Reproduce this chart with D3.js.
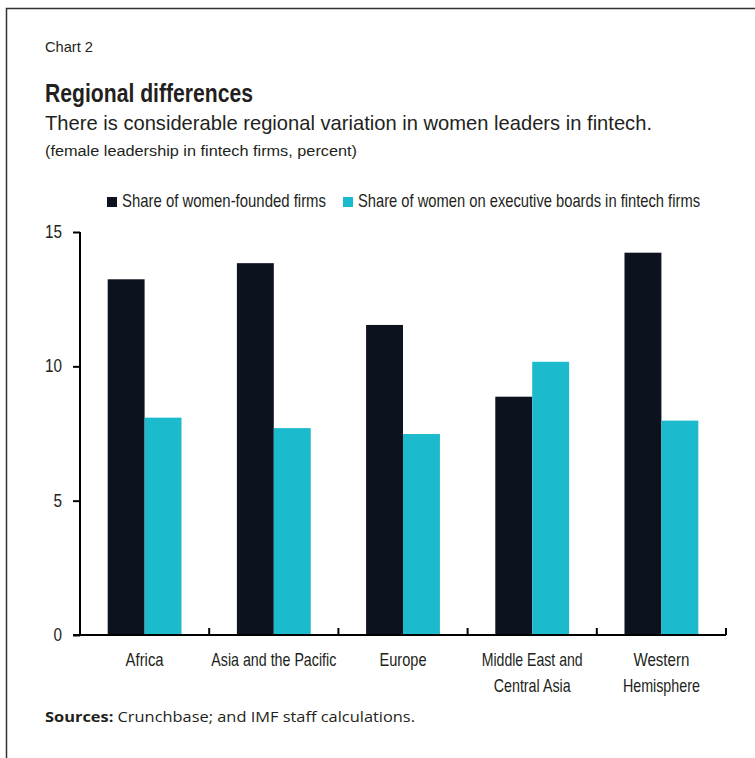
<!DOCTYPE html>
<html lang="en">
<head>
<meta charset="UTF-8">
<script src="https://d3js.org/d3.v7.min.js"></script>
<title>Regional differences</title>
<style>
  body { margin: 0; background: #fff; }
  svg text { fill: #231f20; }
  .cond { font-family: "Liberation Sans", "DejaVu Sans", sans-serif; }
</style>
</head>
<body>
<div id="wrapper"></div>
<script>
// data
const regions = [["Africa"], ["Asia and the Pacific"], ["Europe"], ["Middle East and", "Central Asia"], ["Western", "Hemisphere"]];
const womenFounded = [13.24, 13.84, 11.54, 8.87, 14.23];
const womenBoards = [8.09, 7.70, 7.48, 10.17, 7.98];
const seriesNames = ["Share of women-founded firms", "Share of women on executive boards in fintech firms"];
const seriesColors = ["#0d131e", "#1bbacc"];
const yTicks = [0, 5, 10, 15];

const width = 755, height = 758;
const margin = {left: 80, right: 29, top: 232, bottom: 123};

// the original uses a condensed face; squeeze the text to the widths it takes there
function squeeze(sel, w) {
  sel.attr("textLength", w).attr("lengthAdjust", "spacingAndGlyphs");
  return sel;
}

const svg = d3.select("#wrapper").append("svg")
  .attr("width", width)
  .attr("height", height);

// frame: top and left only
svg.append("path")
  .attr("d", "M6.5,758 V8.5 H755")
  .attr("fill", "none")
  .attr("stroke", "#333")
  .attr("stroke-width", 1.5);

// titles
svg.append("text").attr("class", "cond")
  .attr("x", 45).attr("y", 52)
  .style("font-size", "15px")
  .text("Chart 2").call(squeeze, 48);
svg.append("text").attr("class", "cond")
  .attr("x", 45).attr("y", 102)
  .style("font-size", "25px").style("font-weight", "bold")
  .text("Regional differences").call(squeeze, 208);
svg.append("text").attr("class", "cond")
  .attr("x", 45).attr("y", 130)
  .style("font-size", "21px")
  .text("There is considerable regional variation in women leaders in fintech.").call(squeeze, 607);
svg.append("text").attr("class", "cond")
  .attr("x", 45).attr("y", 156)
  .style("font-size", "15.5px")
  .text("(female leadership in fintech firms, percent)").call(squeeze, 312);

// legend
const legendX = [107, 343];
const legendW = [204, 342];
seriesNames.forEach((name, i) => {
  svg.append("rect")
    .attr("x", legendX[i]).attr("y", 197)
    .attr("width", 10).attr("height", 10)
    .attr("fill", seriesColors[i]);
  svg.append("text").attr("class", "cond")
    .attr("x", legendX[i] + 15).attr("y", 207)
    .style("font-size", "18.5px")
    .text(name).call(squeeze, legendW[i]);
});

const bounds = svg.append("g")
  .attr("transform", `translate(${margin.left},${margin.top})`);
const bw = width - margin.left - margin.right;
const bh = height - margin.top - margin.bottom;

const xScale = d3.scaleBand()
  .domain(regions.map(d => d.join(" ")))
  .range([0, bw]);
const xInner = d3.scaleBand()
  .domain([0, 1])
  .range([0, xScale.bandwidth()])
  .paddingOuter(0.75);
const yScale = d3.scaleLinear()
  .domain([0, 15])
  .range([bh, 0]);

// bars
const rows = regions.map((r, i) => ({key: r.join(" "), vals: [womenFounded[i], womenBoards[i]]}));
const groups = bounds.selectAll("g.grp")
  .data(rows)
  .join("g")
    .attr("class", "grp")
    .attr("transform", d => `translate(${xScale(d.key)},0)`);
groups.selectAll("rect")
  .data(d => d.vals.map((v, j) => ({v, j})))
  .join("rect")
    .attr("x", d => xInner(d.j))
    .attr("width", xInner.bandwidth())
    .attr("y", d => yScale(d.v))
    .attr("height", d => bh - yScale(d.v))
    .attr("fill", d => seriesColors[d.j]);

// y axis
const yAxis = bounds.append("g")
  .call(d3.axisLeft(yScale).tickValues(yTicks).tickSize(7).tickPadding(11).tickFormat(d3.format("d")));
yAxis.select(".domain").remove();
yAxis.append("line")
  .attr("x1", 0).attr("x2", 0)
  .attr("y1", yScale(15)).attr("y2", bh)
  .attr("stroke", "#000").attr("stroke-width", 2);
yAxis.selectAll(".tick line").attr("stroke", "#000").attr("stroke-width", 2);
yAxis.selectAll(".tick text")
  .attr("class", "cond")
  .style("font-size", "17.5px")
  .attr("fill", "#231f20")
  .each(function(d) { d3.select(this).call(squeeze, String(d).length * 8.5); });

// x axis
const xAxis = bounds.append("g")
  .attr("transform", `translate(0,${bh})`);
xAxis.append("line")
  .attr("x1", -7).attr("x2", bw)
  .attr("stroke", "#000").attr("stroke-width", 2);
const seps = xScale.domain().map(d => xScale(d) + xScale.bandwidth());
xAxis.selectAll("line.sep")
  .data(seps)
  .join("line")
    .attr("class", "sep")
    .attr("x1", d => d).attr("x2", d => d)
    .attr("y1", 0).attr("y2", -7)
    .attr("stroke", "#000").attr("stroke-width", 2);

// category labels, one text per line
const labelW = {"Africa": 38, "Asia and the Pacific": 125, "Europe": 47, "Middle East and": 101,
  "Central Asia": 77, "Western": 56, "Hemisphere": 77};
const labelLines = regions.flatMap(r => r.map((line, i) => ({key: r.join(" "), line, i})));
xAxis.selectAll("text.lbl")
  .data(labelLines)
  .join("text")
    .attr("class", "lbl cond")
    .attr("text-anchor", "middle")
    .attr("x", d => xScale(d.key) + xScale.bandwidth() / 2)
    .attr("y", d => 31 + d.i * 26)
    .style("font-size", "18.5px")
    .text(d => d.line)
    .each(function(d) { d3.select(this).call(squeeze, labelW[d.line]); });

// source note
const src = svg.append("text")
  .attr("x", 45).attr("y", 722)
  .style("font-family", "'Open Sans', sans-serif")
  .style("font-size", "15px");
src.append("tspan").style("font-weight", "bold").text("Sources:");
src.append("tspan").text(" Crunchbase; and IMF staff calculations.");
src.call(squeeze, 370);
</script>
</body>
</html>
